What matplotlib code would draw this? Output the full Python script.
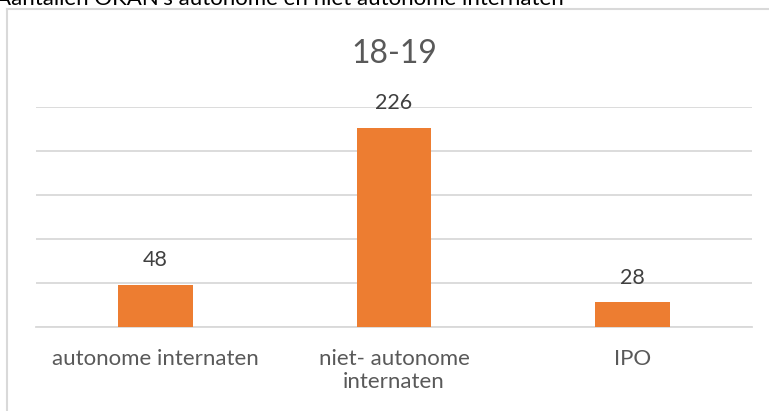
import matplotlib.pyplot as plt
from matplotlib.lines import Line2D

# Data
categories = ["autonome internaten", "niet- autonome\ninternaten", "IPO"]
values = [48, 226, 28]
title = "18-19"
heading = "Aantallen OKAN's autonome en niet autonome internaten"

W, H = 769, 411
plt.rcParams["font.family"] = ["Lato", "DejaVu Sans"]
text_color = "#595959"
grid_color = "#D9D9D9"
bar_color = "#ED7D31"

fig = plt.figure(figsize=(W / 100, H / 100), dpi=100)

# Axes placed in pixel coordinates of the reference
left, right, top, base = 36, 752, 107, 327
ax = fig.add_axes([left / W, (H - base) / H, (right - left) / W, (base - top) / H])

x = range(len(categories))
bars = ax.bar(x, values, width=0.314, color=bar_color, zorder=3)
ax.set_xlim(-0.5, len(categories) - 0.5)
ax.set_ylim(0, 250)
ax.set_yticks(range(0, 251, 50))
ax.yaxis.grid(True, color=grid_color, linewidth=1.3, zorder=0)
ax.tick_params(axis="y", left=False, labelleft=False)
ax.tick_params(axis="x", length=0, pad=16, labelsize=16, labelcolor=text_color)
ax.set_xticks(list(x))
ax.set_xticklabels(categories, linespacing=1.2)
for side in ["top", "right", "left"]:
    ax.spines[side].set_visible(False)
ax.spines["bottom"].set_color(grid_color)
ax.spines["bottom"].set_linewidth(1.3)

for xi, v in zip(x, values):
    ax.annotate(str(v), (xi, v), xytext=(0, 13.5), textcoords="offset points",
                ha="center", va="baseline", fontsize=15.5, color="#404040")

# Chart title
fig.text(394 / W, 1 - 63 / H, title, ha="center", va="baseline",
         fontsize=23, color=text_color)

# Chart frame (left and top edges visible)
fig.add_artist(Line2D([6.5 / W, 6.5 / W], [0, 1 - 9 / H], color=grid_color, lw=1.5))
fig.add_artist(Line2D([6.5 / W, 1], [1 - 9 / H, 1 - 9 / H], color=grid_color, lw=1.5))

# Document text cut off above the chart
fig.text(-4 / W, 1 - 5 / H, heading, ha="left", va="baseline",
         fontsize=16, color="black")

fig.savefig("out.png", dpi=100)
